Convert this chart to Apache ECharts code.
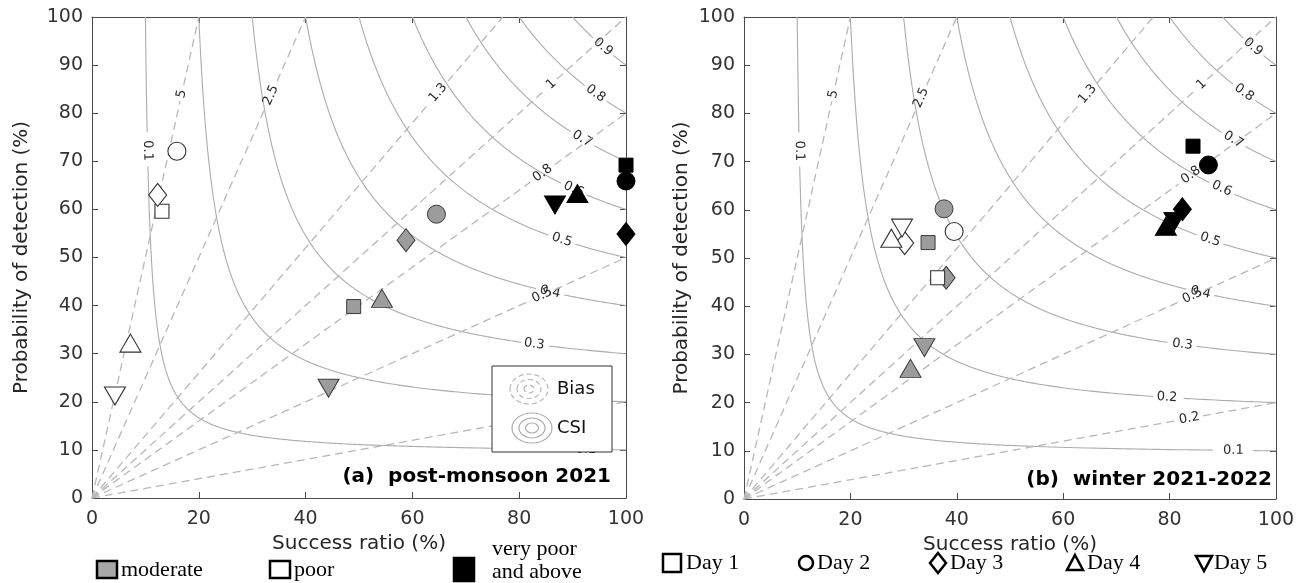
<!DOCTYPE html>
<html>
<head>
<meta charset="utf-8">
<script src="https://cdn.jsdelivr.net/npm/echarts@6/dist/echarts.min.js"></script>
<style>
  html, body { margin: 0; padding: 0; background: #ffffff; }
  #chart { width: 1307px; height: 583px; }
</style>
</head>
<body>
<div id="chart"></div>
<script>
// ---- axis ticks ----
const X_TICKS = [0, 20, 40, 60, 80, 100];
const Y_TICKS = [0, 10, 20, 30, 40, 50, 60, 70, 80, 90, 100];

// ---- reference isolines of the performance diagram ----
const CSI_LEVELS = [0.1, 0.2, 0.3, 0.4, 0.5, 0.6, 0.7, 0.8, 0.9];
const BIAS_LEVELS = [0.2, 0.5, 0.8, 1, 1.3, 2.5, 5];

// ---- legend entries ----
const CATEGORIES = ['moderate', 'poor', 'very poor and above'];
const DAYS = ['Day 1', 'Day 2', 'Day 3', 'Day 4', 'Day 5'];

// ---- scores: [success ratio %, probability of detection %], Day 1 .. Day 5 ----
// (a) post-monsoon 2021
const A_MODERATE  = [[49.0, 39.8], [64.5, 59.0], [58.8, 53.6], [54.3, 41.5], [44.3, 22.8]];
const A_POOR      = [[13.1, 59.6], [15.9, 72.1], [12.3, 63.0], [7.2, 32.2], [4.3, 21.2]];
const A_VERY_POOR = [[100, 69.2], [100, 65.9], [100, 54.9], [90.9, 63.3], [86.7, 60.9]];
// (b) winter 2021-2022
const B_MODERATE  = [[34.6, 53.2], [37.6, 60.2], [38.0, 45.9], [31.3, 27.1], [33.9, 31.4]];
const B_POOR      = [[36.4, 45.9], [39.5, 55.5], [30.2, 53.1], [27.7, 54.1], [29.7, 56.2]];
const B_VERY_POOR = [[84.4, 73.2], [87.3, 69.3], [82.4, 60.1], [79.3, 56.6], [80.9, 57.6]];

// ---- where the isoline labels sit: [level, success ratio %] ----
const A_CSI_LABEL_AT  = [[0.1, 10.4], [0.1, 92.5], [0.2, 78], [0.3, 82.8], [0.4, 85.8], [0.5, 88], [0.6, 90.2], [0.7, 91.8], [0.8, 94.3], [0.9, 95.7]];
const A_BIAS_LABEL_AT = [[5, 16.8], [2.5, 33.5], [1.3, 64.8], [1, 86], [0.8, 84.4], [0.5, 84.3], [0.2, 83.7]];
const B_CSI_LABEL_AT  = [[0.1, 10.4], [0.1, 92], [0.2, 79.5], [0.3, 82.4], [0.4, 85.8], [0.5, 87.6], [0.6, 89.8], [0.7, 92], [0.8, 94], [0.9, 95.7]];
const B_BIAS_LABEL_AT = [[5, 16.8], [2.5, 33.3], [1.3, 64.6], [1, 86], [0.8, 84], [0.5, 84.3], [0.2, 83.7]];

// ---- styling ----
const SANS = '"DejaVu Sans", "Liberation Sans", sans-serif';
const SERIF = '"Liberation Serif", "DejaVu Serif", serif';
const AXIS_COLOR = '#4a4a4a';
const LABEL_FONT = '13px ' + SANS;
const CSI_COLOR = '#acacac';
const BIAS_COLOR = '#b8b8b8';

const DAY_SYMBOLS = ['rect', 'circle', 'diamond', 'triangle', 'triangle'];
const DAY_SIZES = [[14, 14], [18, 18], [18, 23], [21, 18], [21, 18]];
const DAY_ROTATE = [0, 0, 0, 0, 180];

const measureCtx = document.createElement('canvas').getContext('2d');
function textWidth(text, font) { measureCtx.font = font; return measureCtx.measureText(text).width; }

function buildIsolines(csiAt, biasAt) {
  const lines = [];
  CSI_LEVELS.forEach(c => lines.push({ kind: 'csi', level: c, at: csiAt.filter(d => d[0] === c).map(d => d[1]) }));
  BIAS_LEVELS.forEach(b => lines.push({ kind: 'bias', level: b, at: biasAt.filter(d => d[0] === b).map(d => d[1]) }));
  return lines;
}

// point of an isoline at a given success ratio (percent units)
function curvePoint(line, sr) {
  if (line.kind === 'csi') return [sr, 100 / (1 / line.level + 1 - 100 / sr)];
  return [sr, line.level * sr];
}

function curveSamples(line) {
  const pts = [];
  if (line.kind === 'csi') {
    const c = line.level, n = 400;
    for (let i = 0; i <= n; i++) {
      const a = 1 + (1 / c - 1) * i / n;          // a = 1/SR
      pts.push([100 / a, 100 / (1 / c + 1 - a)]);
    }
  } else {
    const b = line.level, n = 240;
    const end = b >= 1 ? [100 / b, 100] : [100, 100 * b];
    for (let i = 0; i <= n; i++) pts.push([end[0] * i / n, end[1] * i / n]);
  }
  return pts;
}

function isoRenderer(lines) {
  return function (params, api) {
    const line = lines[params.dataIndex];
    const px = curveSamples(line).map(p => api.coord(p));
    const labels = line.at.map(sr => {
      const c = api.coord(curvePoint(line, sr));
      const q1 = api.coord(curvePoint(line, sr - 0.25));
      const q2 = api.coord(curvePoint(line, sr + 0.25));
      let ang = Math.atan2(-(q2[1] - q1[1]), q2[0] - q1[0]);
      if (ang > Math.PI / 2) ang -= Math.PI;
      if (ang <= -Math.PI / 2) ang += Math.PI;
      const txt = String(line.level);
      return { c, ang, txt, r: textWidth(txt, LABEL_FONT) / 2 + 3 };
    });
    // break the line where its labels sit
    const pieces = [];
    let cur = [];
    px.forEach(p => {
      const hidden = labels.some(l => Math.hypot(p[0] - l.c[0], p[1] - l.c[1]) < l.r);
      if (hidden) { if (cur.length > 1) pieces.push(cur); cur = []; }
      else cur.push(p);
    });
    if (cur.length > 1) pieces.push(cur);
    const dashed = line.kind === 'bias';
    const children = pieces.map(pts => ({
      type: 'polyline',
      shape: { points: pts },
      style: {
        stroke: dashed ? BIAS_COLOR : CSI_COLOR,
        lineWidth: dashed ? 1.3 : 1.1,
        lineDash: dashed ? [8, 5] : null,
        fill: null
      },
      silent: true
    }));
    labels.forEach(l => children.push({
      type: 'text',
      x: l.c[0], y: l.c[1],
      rotation: l.ang,
      silent: true,
      style: { text: l.txt, font: LABEL_FONT, fill: '#2a2a2a', align: 'center', verticalAlign: 'middle' }
    }));
    return { type: 'group', children };
  };
}

function markerData(points) {
  return points.map((p, i) => ({
    value: p,
    symbol: DAY_SYMBOLS[i],
    symbolSize: DAY_SIZES[i],
    symbolRotate: DAY_ROTATE[i]
  }));
}

const CATEGORY_STYLE = [
  { color: '#9c9c9c', borderColor: '#3a3a3a', borderWidth: 1, opacity: 1 },
  { color: '#ffffff', borderColor: '#333333', borderWidth: 1.1, opacity: 1 },
  { color: '#000000', borderColor: '#000000', borderWidth: 1, opacity: 1 }
];

function panelSeries(gridIdx, sets, csiAt, biasAt) {
  const xi = gridIdx * 2, yi = gridIdx * 2;
  const lines = buildIsolines(csiAt, biasAt);
  const out = [{
    type: 'custom',
    name: 'isolines',
    xAxisIndex: xi, yAxisIndex: yi,
    silent: true,
    z: 1,
    renderItem: isoRenderer(lines),
    data: lines.map(() => [50, 50]),
    clip: false
  }];
  sets.forEach((pts, k) => out.push({
    type: 'scatter',
    name: CATEGORIES[k],
    xAxisIndex: xi, yAxisIndex: yi,
    z: 5,
    clip: false,
    silent: true,
    itemStyle: CATEGORY_STYLE[k],
    data: markerData(pts)
  }));
  return out;
}

function xAxes(gridIndex) {
  return [{
    gridIndex, type: 'value', min: X_TICKS[0], max: X_TICKS[X_TICKS.length - 1], interval: X_TICKS[1] - X_TICKS[0],
    position: 'bottom',
    axisLine: { show: true, onZero: false, lineStyle: { color: AXIS_COLOR, width: 1 } },
    axisTick: { show: true, inside: true, length: 6, lineStyle: { color: AXIS_COLOR } },
    splitLine: { show: false },
    axisLabel: { fontSize: 19, color: '#333333', margin: 12, fontFamily: SANS, showMinLabel: true, showMaxLabel: true },
    name: 'Success ratio (%)', nameLocation: 'middle', nameGap: 28,
    nameTextStyle: { fontSize: 20, color: '#262626', fontFamily: SANS }
  }, {
    gridIndex, type: 'value', min: X_TICKS[0], max: X_TICKS[X_TICKS.length - 1], interval: X_TICKS[1] - X_TICKS[0],
    position: 'top',
    axisLine: { show: true, onZero: false, lineStyle: { color: AXIS_COLOR, width: 1 } },
    axisTick: { show: true, inside: true, length: 6, lineStyle: { color: AXIS_COLOR } },
    splitLine: { show: false },
    axisLabel: { show: false }
  }];
}

function yAxes(gridIndex, nameGap) {
  return [{
    gridIndex, type: 'value', min: Y_TICKS[0], max: Y_TICKS[Y_TICKS.length - 1], interval: Y_TICKS[1] - Y_TICKS[0],
    position: 'left',
    axisLine: { show: true, onZero: false, lineStyle: { color: AXIS_COLOR, width: 1 } },
    axisTick: { show: true, inside: true, length: 6, lineStyle: { color: AXIS_COLOR } },
    splitLine: { show: false },
    axisLabel: { fontSize: 19, color: '#333333', margin: 9, fontFamily: SANS, showMinLabel: true, showMaxLabel: true },
    name: 'Probability of detection (%)', nameLocation: 'middle', nameGap,
    nameTextStyle: { fontSize: 20, color: '#262626', fontFamily: SANS }
  }, {
    gridIndex, type: 'value', min: Y_TICKS[0], max: Y_TICKS[Y_TICKS.length - 1], interval: Y_TICKS[1] - Y_TICKS[0],
    position: 'right',
    axisLine: { show: true, onZero: false, lineStyle: { color: AXIS_COLOR, width: 1 } },
    axisTick: { show: true, inside: true, length: 6, lineStyle: { color: AXIS_COLOR } },
    splitLine: { show: false },
    axisLabel: { show: false }
  }];
}

// isoline key drawn inside panel (a)
function ringSet(cx, cy, radii, dashed) {
  return radii.map(r => ({
    type: 'ellipse',
    shape: { cx, cy, rx: r[0], ry: r[1] },
    style: { fill: null, stroke: dashed ? BIAS_COLOR : CSI_COLOR, lineWidth: 1.2, lineDash: dashed ? [5, 3] : null },
    z: 11
  }));
}
const keyBox = [
  { type: 'rect', shape: { x: 492, y: 366, width: 120, height: 86 }, style: { fill: '#ffffff', stroke: '#333333', lineWidth: 1 }, z: 10 },
  ...ringSet(529, 389, [[19, 15], [12, 9.5], [5, 4]], true),
  ...ringSet(532, 428, [[20, 15], [13, 10], [6.5, 5]], false),
  { type: 'text', x: 557, y: 389, style: { text: 'Bias', font: '18px ' + SANS, fill: '#111', verticalAlign: 'middle' }, z: 11 },
  { type: 'text', x: 557, y: 428, style: { text: 'CSI', font: '18px ' + SANS, fill: '#111', verticalAlign: 'middle' }, z: 11 }
];

const panelTags = [
  { type: 'text', x: 611, y: 477, style: { text: '(a)  post-monsoon 2021', font: 'bold 20px ' + SANS, fill: '#000', align: 'right', verticalAlign: 'middle' }, z: 12 },
  { type: 'text', x: 1272, y: 480, style: { text: '(b)  winter 2021-2022', font: 'bold 20px ' + SANS, fill: '#000', align: 'right', verticalAlign: 'middle' }, z: 12 }
];

// bottom key: categories (fill) and days (shape)
const ICON_STROKE = { stroke: '#000', lineWidth: 2.5 };
const legendFont = '22px ' + SERIF;
const bottomKey = [
  { type: 'rect', shape: { x: 97, y: 561, width: 20, height: 17 }, style: Object.assign({ fill: '#a8a8a8' }, ICON_STROKE) },
  { type: 'text', x: 121, y: 570, style: { text: CATEGORIES[0], font: legendFont, fill: '#000', verticalAlign: 'middle' } },
  { type: 'rect', shape: { x: 270, y: 561, width: 20, height: 17 }, style: Object.assign({ fill: '#fff' }, ICON_STROKE) },
  { type: 'text', x: 294, y: 570, style: { text: CATEGORIES[1], font: legendFont, fill: '#000', verticalAlign: 'middle' } },
  { type: 'rect', shape: { x: 454, y: 558, width: 20, height: 23 }, style: Object.assign({ fill: '#000' }, ICON_STROKE) },
  { type: 'text', x: 492, y: 549, style: { text: 'very poor', font: legendFont, fill: '#000', verticalAlign: 'middle' } },
  { type: 'text', x: 492, y: 572, style: { text: 'and above', font: legendFont, fill: '#000', verticalAlign: 'middle' } },

  { type: 'rect', shape: { x: 663, y: 554, width: 18, height: 18 }, style: Object.assign({ fill: '#fff' }, ICON_STROKE) },
  { type: 'text', x: 686, y: 563, style: { text: DAYS[0], font: legendFont, fill: '#000', verticalAlign: 'middle' } },
  { type: 'circle', shape: { cx: 806, cy: 563, r: 7 }, style: Object.assign({ fill: '#fff' }, ICON_STROKE) },
  { type: 'text', x: 817, y: 563, style: { text: DAYS[1], font: legendFont, fill: '#000', verticalAlign: 'middle' } },
  { type: 'polygon', shape: { points: [[938, 553], [946, 563], [938, 573], [930, 563]] }, style: Object.assign({ fill: '#fff' }, ICON_STROKE) },
  { type: 'text', x: 950, y: 563, style: { text: DAYS[2], font: legendFont, fill: '#000', verticalAlign: 'middle' } },
  { type: 'polygon', shape: { points: [[1075, 555], [1083, 570], [1067, 570]] }, style: Object.assign({ fill: '#fff' }, ICON_STROKE) },
  { type: 'text', x: 1087, y: 563, style: { text: DAYS[3], font: legendFont, fill: '#000', verticalAlign: 'middle' } },
  { type: 'polygon', shape: { points: [[1196, 556], [1212, 556], [1204, 571]] }, style: Object.assign({ fill: '#fff' }, ICON_STROKE) },
  { type: 'text', x: 1214, y: 563, style: { text: DAYS[4], font: legendFont, fill: '#000', verticalAlign: 'middle' } }
];

const chart = echarts.init(document.getElementById('chart'), null, { renderer: 'canvas' });
chart.setOption({
  animation: false,
  backgroundColor: '#ffffff',
  grid: [
    { left: 92, top: 17, width: 534, height: 481 },
    { left: 744, top: 17, width: 532, height: 482 }
  ],
  xAxis: [...xAxes(0), ...xAxes(1)],
  yAxis: [...yAxes(0, 60), ...yAxes(1, 52)],
  series: [
    ...panelSeries(0, [A_MODERATE, A_POOR, A_VERY_POOR], A_CSI_LABEL_AT, A_BIAS_LABEL_AT),
    ...panelSeries(1, [B_MODERATE, B_POOR, B_VERY_POOR], B_CSI_LABEL_AT, B_BIAS_LABEL_AT)
  ],
  graphic: [...keyBox, ...panelTags, ...bottomKey]
});
</script>
</body>
</html>
